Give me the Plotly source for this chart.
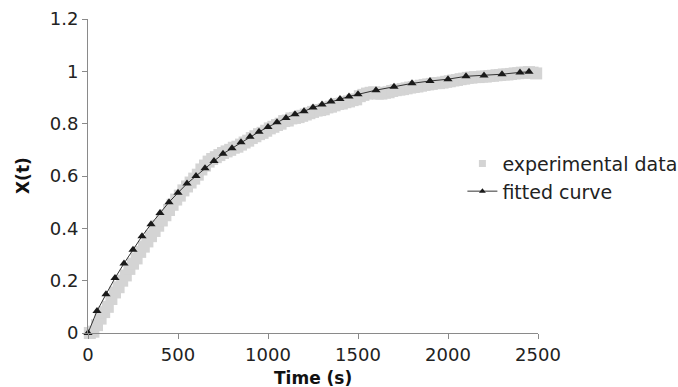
import plotly.graph_objects as go

# Fitted curve (triangles)
t_fit = [0, 50, 100, 150, 200, 250, 300, 350, 400, 450, 500, 550, 600, 650, 700, 750,
         800, 850, 900, 950, 1000, 1050, 1100, 1150, 1200, 1250, 1300, 1350, 1400, 1450,
         1500, 1600, 1700, 1800, 1900, 2000, 2100, 2200, 2300, 2400, 2450]
x_fit = [0.0, 0.084, 0.148, 0.21, 0.266, 0.318, 0.37, 0.416, 0.459, 0.50, 0.536, 0.571,
         0.60, 0.63, 0.657, 0.685, 0.706, 0.729, 0.75, 0.769, 0.787, 0.805, 0.822, 0.836,
         0.847, 0.862, 0.873, 0.885, 0.894, 0.904, 0.912, 0.928, 0.941, 0.954, 0.963,
         0.97, 0.981, 0.984, 0.989, 0.996, 0.998]

t_exp = [10, 30, 50, 70, 90, 110, 130, 150, 170, 190, 210, 230, 250, 270, 290, 310, 330,
         350, 370, 390, 410, 430, 450, 470, 490, 510, 530, 550, 570, 590, 610, 630, 650,
         670, 690, 710, 730, 750, 770, 790, 810, 830, 850, 870, 890, 910, 930, 950, 970,
         990, 1010, 1030, 1050, 1070, 1090, 1110, 1130, 1150, 1170, 1190, 1210, 1230,
         1250, 1270, 1290, 1310, 1330, 1350, 1370, 1390, 1410, 1430, 1450, 1470, 1490,
         1510, 1530, 1550, 1570, 1590, 1610, 1630, 1650, 1670, 1690, 1710, 1730, 1750,
         1770, 1790, 1810, 1830, 1850, 1870, 1890, 1910, 1930, 1950, 1970, 1990, 2010,
         2030, 2050, 2070, 2090, 2110, 2130, 2150, 2170, 2190, 2210, 2230, 2250, 2270,
         2290, 2310, 2330, 2350, 2370, 2390, 2410, 2430, 2450, 2470, 2490]
x_exp = [0.0, 0.005, 0.03, 0.055, 0.08, 0.10, 0.13, 0.155, 0.175, 0.20, 0.22, 0.245,
         0.265, 0.285, 0.31, 0.33, 0.35, 0.37, 0.39, 0.41, 0.43, 0.45, 0.47, 0.49, 0.51,
         0.525, 0.545, 0.56, 0.575, 0.59, 0.605, 0.625, 0.64, 0.655, 0.665, 0.672, 0.68,
         0.688, 0.694, 0.70, 0.708, 0.712, 0.72, 0.728, 0.735, 0.745, 0.752, 0.76, 0.765,
         0.773, 0.782, 0.788, 0.795, 0.80, 0.81, 0.812, 0.82, 0.822, 0.825, 0.83, 0.835,
         0.84, 0.845, 0.85, 0.852, 0.855, 0.862, 0.865, 0.87, 0.875, 0.877, 0.882, 0.885,
         0.89, 0.893, 0.905, 0.91, 0.915, 0.918, 0.92, 0.915, 0.915, 0.918, 0.92, 0.925,
         0.928, 0.93, 0.932, 0.935, 0.938, 0.94, 0.942, 0.945, 0.948, 0.95, 0.952, 0.955,
         0.955, 0.957, 0.96, 0.962, 0.965, 0.967, 0.97, 0.972, 0.975, 0.976, 0.978, 0.978,
         0.98, 0.98, 0.982, 0.983, 0.985, 0.986, 0.988, 0.988, 0.99, 0.992, 0.993, 0.995,
         0.995, 0.997, 0.995, 0.992]

x_ticks = [0, 500, 1000, 1500, 2000, 2500]
y_ticks = [0, 0.2, 0.4, 0.6, 0.8, 1, 1.2]
y_ticklabels = ["0", "0.2", "0.4", "0.6", "0.8", "1", "1.2"]

FONT = "DejaVu Sans, Verdana, sans-serif"
GREY = "#d4d4d4"
DARK = "#1a1a1a"

fig = go.Figure()
# data traces (legend shown through small proxy entries below)
fig.add_trace(go.Scatter(
    x=t_exp, y=x_exp, mode="markers", name="experimental data", showlegend=False,
    marker=dict(symbol="square", size=12, color=GREY, line=dict(width=0)),
    cliponaxis=False,
))
fig.add_trace(go.Scatter(
    x=t_fit, y=x_fit, mode="lines+markers", name="fitted curve", showlegend=False,
    line=dict(color="#333333", width=1),
    marker=dict(symbol="triangle-up", size=8, color=DARK),
    cliponaxis=False,
))
# legend proxies with small symbols, as in the reference
fig.add_trace(go.Scatter(
    x=[None], y=[None], mode="markers", name="experimental data",
    marker=dict(symbol="square", size=7, color=GREY),
))
fig.add_trace(go.Scatter(
    x=[None], y=[None], mode="lines+markers", name="fitted curve",
    line=dict(color="#333333", width=1),
    marker=dict(symbol="triangle-up", size=6, color=DARK),
))

axis_common = dict(
    showgrid=False, zeroline=False, showline=True, linecolor="#8a8a8a", linewidth=1,
    ticks="outside", ticklen=5, tickcolor="#8a8a8a", tickwidth=1,
    tickfont=dict(family=FONT, size=18, color="#222222"),
    automargin=False,
)
fig.update_xaxes(range=[0, 2500], tickvals=x_ticks, **axis_common)
fig.update_yaxes(range=[0, 1.2], tickvals=y_ticks, ticktext=y_ticklabels, **axis_common)

fig.update_layout(
    width=678, height=387,
    margin=dict(l=88, r=140, t=19, b=54, autoexpand=False),
    paper_bgcolor="white", plot_bgcolor="white",
    showlegend=True,
    legend=dict(x=0.832, y=0.60, xanchor="left", yanchor="top",
                font=dict(family=FONT, size=19, color="#222222"),
                bgcolor="rgba(0,0,0,0)"),
    font=dict(family=FONT),
    annotations=[
        dict(text="<b>Time (s)</b>", xref="paper", yref="paper", x=0.5, y=0,
             xanchor="center", yanchor="middle", yshift=-45, showarrow=False,
             font=dict(family=FONT, size=17, color="#111111")),
        dict(text="<b>X(t)</b>", xref="paper", yref="paper", x=0, y=0.5,
             xanchor="center", yanchor="middle", xshift=-65, textangle=-90,
             showarrow=False, font=dict(family=FONT, size=17, color="#111111")),
    ],
)

fig.write_html("out.html", config={"displayModeBar": False},
               post_script="document.body.style.margin='0';")
